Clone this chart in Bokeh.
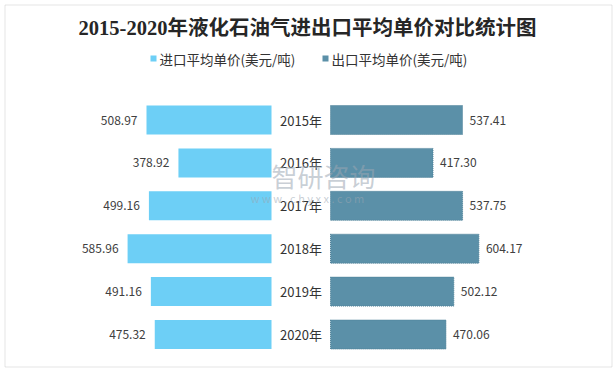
from bokeh.plotting import figure
from bokeh.models import Range1d, Label, ColumnDataSource, BoxAnnotation
from bokeh.core.properties import value
from bokeh.embed import file_html
from bokeh.resources import INLINE

# ---- data ----
years = ["2015年", "2016年", "2017年", "2018年", "2019年", "2020年"]
import_price = [508.97, 378.92, 499.16, 585.96, 491.16, 475.32]
export_price = [537.41, 417.30, 537.75, 604.17, 502.12, 470.06]
series_names = ["进口平均单价(美元/吨)", "出口平均单价(美元/吨)"]
title_text = "2015-2020年液化石油气进出口平均单价对比统计图"

# ---- layout constants (pixels) ----
W, H = 616, 371
K = 0.2456          # px per value unit
CX = 300.5          # center x (px)
PITCH = 42.9        # px per category row
Y0 = 119.5          # px from top to first row center
GAP = 29.5 / K      # half gap between bars (data units)

C_IMP = "#6dcff6"
C_EXP = "#5b90a8"
FONT = "Noto Sans CJK SC"

def xd(px):
    return (px - CX) / K

def yd(py):
    return (py - Y0) / PITCH

p = figure(width=W, height=H, output_backend="svg", toolbar_location=None,
           x_range=Range1d(-CX / K, (W - CX) / K),
           y_range=Range1d((H - Y0) / PITCH, -Y0 / PITCH),
           min_border=0, min_border_left=0, min_border_right=0,
           min_border_top=0, min_border_bottom=0)
p.axis.visible = False
p.grid.visible = False
p.outline_line_color = None
p.background_fill_color = "white"
p.border_fill_color = "white"

# outer border
p.add_layout(BoxAnnotation(left=4.5, right=611.5, top=H - 4.5, bottom=H - 366.5,
                           left_units="screen", right_units="screen",
                           top_units="screen", bottom_units="screen",
                           fill_alpha=0, line_color="#a6a6a6", line_width=1))

idx = list(range(len(years)))
src = ColumnDataSource(dict(
    y=idx,
    year=years,
    imp_left=[-(GAP + v) for v in import_price],
    imp_right=[-GAP] * len(years),
    exp_left=[GAP] * len(years),
    exp_right=[GAP + v for v in export_price],
    imp_lab=[f"{v:.2f}" for v in import_price],
    exp_lab=[f"{v:.2f}" for v in export_price],
    imp_lab_x=[-(GAP + v) - 9 / K for v in import_price],
    exp_lab_x=[GAP + v + 7 / K for v in export_price],
    zero=[0] * len(years),
))

# watermark
p.add_layout(Label(x=323, y=H - 175, x_units="screen", y_units="screen",
                   text="智研咨询", text_font=FONT, text_font_size="26px",
                   text_color="#9aa6b2", text_alpha=0.55,
                   text_align="center", text_baseline="middle"))
p.add_layout(Label(x=307, y=H - 197, x_units="screen", y_units="screen",
                   text="w w w . c h y x x . c o m", text_font=FONT, text_font_size="11px",
                   text_color="#9aa6b2", text_alpha=0.55,
                   text_align="center", text_baseline="middle"))

p.hbar(y="y", left="imp_left", right="imp_right", height=0.676, source=src,
       fill_color=C_IMP, line_color=None)
p.hbar(y="y", left="exp_left", right="exp_right", height=0.676, source=src,
       fill_color=C_EXP, line_color="#4e8098", line_dash="1 1", line_width=1)

p.text(x="imp_lab_x", y="y", text="imp_lab", source=src,
       text_font=value(FONT), text_font_size="12px", text_color="#404040",
       text_align="right", text_baseline="middle")
p.text(x="exp_lab_x", y="y", text="exp_lab", source=src,
       text_font=value(FONT), text_font_size="12px", text_color="#404040",
       text_align="left", text_baseline="middle")
p.text(x="zero", y="y", text="year", source=src,
       text_font=value(FONT), text_font_size="13px", text_color="#333333",
       text_align="center", text_baseline="middle")

# title
p.add_layout(Label(x=307, y=H - 27, x_units="screen", y_units="screen",
                   text=title_text, text_font="Liberation Serif, Noto Sans CJK SC",
                   text_font_size="20.5px", text_font_style="bold", text_color="#262626",
                   text_align="center", text_baseline="middle"))

# legend
p.scatter(x=[xd(153), xd(325)], y=[yd(58), yd(58)], marker="square", size=6,
          fill_color=[C_IMP, C_EXP], line_color=None)
for tx, name in zip([159, 331], series_names):
    p.add_layout(Label(x=tx, y=H - 58, x_units="screen", y_units="screen",
                       text=name, text_font=FONT, text_font_size="13.5px",
                       text_color="#333333", text_align="left", text_baseline="middle"))

open("out.html", "w").write(file_html(p, INLINE))
